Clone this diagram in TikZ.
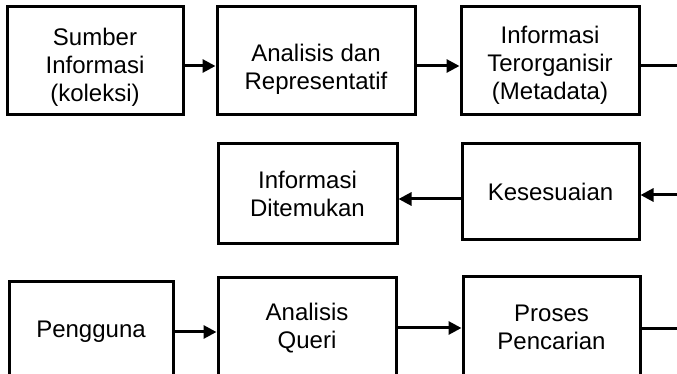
\documentclass[tikz,border=0pt]{standalone}
\usepackage{fontspec}
\setmainfont{Liberation Sans}
\usetikzlibrary{arrows.meta}
\usetikzlibrary{positioning}

\begin{document}
\begin{tikzpicture}[x=1pt,y=1pt,
  box/.style={draw=black,line width=3pt,align=center,inner sep=0pt,font=\fontsize{24}{28}\selectfont},
  teks/.style={align=center,inner sep=0pt,font=\fontsize{24}{28}\selectfont},
  link/.style={line width=3pt,-{Triangle[length=13pt,width=13pt]}},
  plain/.style={line width=3pt}]
\useasboundingbox (0,0) rectangle (677,374);
\clip (0,0) rectangle (677,374);
\fill[white] (0,0) rectangle (677,374);
\coordinate (tepi) at (677,0);

% baris atas
\node[box,minimum width=176pt,minimum height=108pt] (sumber) at (95,313) {};
\node[box,minimum width=198pt,minimum height=108pt] (analisis) at (316,313) {};
\node[box,minimum width=178pt,minimum height=108pt] (metadata) at (550,313) {};
\node[teks] (tsumber) at ([yshift=-6pt]sumber.center) {Sumber\\Informasi\\(koleksi)};
\node[teks] (tanalisis) at ([yshift=-8pt]analisis.center) {Analisis dan\\Representatif};
\node[teks] (tmetadata) at ([yshift=-4pt]metadata.center) {Informasi\\Terorganisir\\(Metadata)};
\draw[link] ([yshift=-5pt]sumber.east) -- ([yshift=-5pt]sumber.east -| analisis.west);
\draw[link] ([yshift=-5pt]analisis.east) -- ([yshift=-5pt]analisis.east -| metadata.west);
\draw[plain] ([yshift=-5pt]metadata.east) -- ([yshift=-5pt]metadata.east -| tepi);

% baris tengah
\node[box,minimum width=179pt,minimum height=100pt] (temu) at (307.5,180) {Informasi\\Ditemukan};
\node[box,minimum width=177pt,minimum height=96pt] (sesuai) at (550.5,182) {Kesesuaian};
\coordinate (masuk) at (677,179);
\draw[link] (masuk) -- (masuk -| sesuai.east);
\draw[link] ([yshift=-7pt]sesuai.west) -- ([yshift=-7pt]sesuai.west -| temu.east);

% baris bawah
\node[box,minimum width=164pt,minimum height=100pt] (pengguna) at (91,42) {Pengguna};
\node[box,minimum width=178pt,minimum height=100pt] (queri) at (307,46) {Analisis\\Queri};
\node[box,minimum width=177pt,minimum height=100pt] (cari) at (551.5,47) {Proses\\Pencarian};
\draw[link] (pengguna.east) -- (pengguna.east -| queri.west);
\draw[link] (queri.east) -- (queri.east -| cari.west);
\draw[plain] ([yshift=-2pt]cari.east) -- ([yshift=-2pt]cari.east -| tepi);

\end{tikzpicture}
\end{document}
